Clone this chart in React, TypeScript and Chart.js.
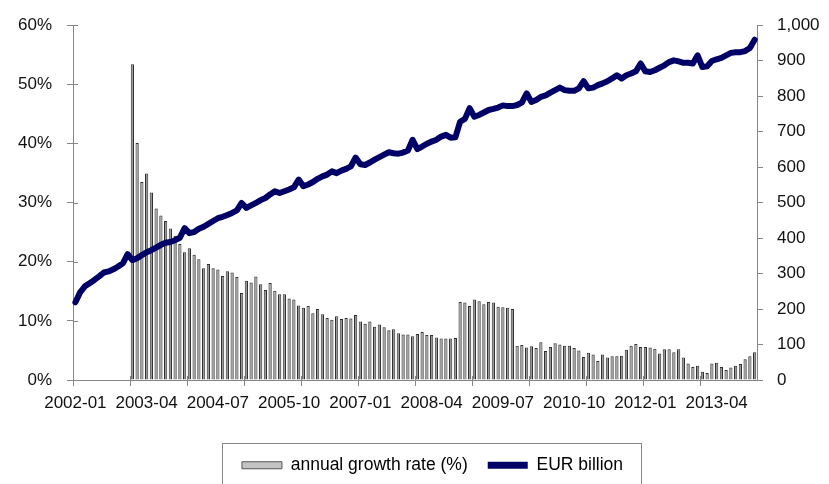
import React, { useEffect, useRef } from 'react';
import { Chart, registerables } from 'chart.js';

Chart.register(...registerables);

// Monthly categories 2002-01 .. 2013-12
const START_YEAR = 2002;
const MONTH_COUNT = 144;
const months: string[] = [];
for (let i = 0; i < MONTH_COUNT; i++) {
  const y = START_YEAR + Math.floor(i / 12);
  const m = (i % 12) + 1;
  months.push(`${y}-${m < 10 ? '0' + m : m}`);
}
const LABEL_EVERY = 15; // tick labels every 15 months
const TICK_EVERY = 12; // tick marks every 12 months

// Annual growth rate (%), 2003-01 .. 2013-12
const GROWTH_START = 12;
const growthRate = [
  53.4, 40.1, 33.5, 34.9, 31.7, 29.0, 27.8, 26.9, 25.6, 24.4, 23.0, 21.6,
  22.3, 21.2, 20.4, 18.9, 19.6, 18.9, 18.7, 17.6, 18.4, 18.2, 17.4, 14.7,
  16.8, 16.5, 17.5, 16.2, 15.2, 16.4, 15.1, 14.5, 14.5, 13.8, 13.6, 12.6,
  12.2, 12.5, 11.3, 12.0, 11.1, 10.5, 10.2, 10.8, 10.3, 10.5, 10.4, 11.0,
  9.9, 9.5, 9.9, 9.0, 9.4, 8.9, 8.4, 8.6, 7.9, 7.7, 7.7, 7.4,
  7.8, 8.1, 7.6, 7.6, 7.2, 7.0, 7.0, 7.0, 7.1, 13.2, 13.1, 12.5,
  13.6, 13.3, 12.8, 13.2, 13.1, 12.4, 12.3, 12.2, 12.0, 5.8, 5.9, 5.5,
  5.7, 5.4, 6.4, 4.9, 5.6, 6.2, 6.0, 5.8, 5.8, 5.4, 5.0, 3.9,
  4.6, 4.3, 3.2, 4.3, 3.8, 4.0, 4.0, 4.1, 5.1, 5.8, 6.1, 5.6,
  5.6, 5.5, 5.3, 4.5, 5.2, 5.2, 4.7, 5.2, 3.8, 2.8, 2.2, 2.4,
  1.4, 1.2, 2.8, 2.9, 2.2, 1.7, 2.1, 2.4, 2.7, 3.5, 4.0, 4.7,
];

// EUR billion, 2002-01 .. 2013-12
const eurBillion = [
  219, 247, 264, 273, 282, 292, 303, 306, 312, 320, 329, 355,
  338, 343, 352, 360, 366, 373, 381, 387, 389, 394, 401, 428,
  414, 417, 426, 432, 440, 448, 456, 460, 465, 471, 478, 499,
  485, 492, 499, 507, 513, 523, 532, 527, 532, 537, 543, 565,
  546, 551, 558, 567, 574, 579, 588, 583, 590, 595, 602, 627,
  608, 606, 613, 621, 628, 635, 642, 639, 638, 641, 647, 677,
  651, 658, 666, 672, 677, 686, 691, 683, 684, 728, 736, 766,
  742, 747, 754, 761, 764, 768, 774, 772, 772, 775, 782, 808,
  784, 789, 798, 802, 810, 817, 824, 817, 815, 815, 822, 842,
  822, 824, 831, 836, 842, 850, 859, 850, 859, 864, 870, 892,
  870, 868, 873, 880, 887, 896, 901, 898, 894, 894, 892, 915,
  882, 884, 899, 904, 908, 915, 922, 924, 924, 927, 936, 959,
];

const seriesNames = ['annual growth rate (%)', 'EUR billion'];
const leftAxis = { min: 0, max: 60, step: 10 };
const rightAxis = { min: 0, max: 1000, step: 100 };

const AXIS_GRAY = '#868686';
const NAVY = '#000066';
const BAR_FILL = '#979797';
const BAR_EDGE = '#303030';
const FONT = "'Liberation Sans', Arial, sans-serif";
const LEGEND_SHIFT = 36;

const legendShift = {
  id: 'legendShift',
  afterLayout(chart: any) {
    const lg = chart.legend;
    if (lg) lg.left += LEGEND_SHIFT;
  },
};

// inner halves of the crossing tick marks (left axis and x axis)
const innerTicks = {
  id: 'innerTicks',
  afterDatasetsDraw(chart: any) {
    const { ctx, chartArea, scales } = chart;
    ctx.save();
    ctx.strokeStyle = AXIS_GRAY;
    ctx.lineWidth = 1;
    ctx.beginPath();
    const y = scales.y;
    for (let v = leftAxis.min; v <= leftAxis.max; v += leftAxis.step) {
      const py = Math.round(y.getPixelForValue(v)) + 0.5;
      ctx.moveTo(chartArea.left, py);
      ctx.lineTo(chartArea.left + 5, py);
    }
    const x = scales.x;
    const step = (chartArea.right - chartArea.left) / MONTH_COUNT;
    for (let i = 0; i <= MONTH_COUNT; i += TICK_EVERY) {
      const px = Math.round(chartArea.left + i * step) + 0.5;
      ctx.moveTo(px, chartArea.bottom);
      ctx.lineTo(px, chartArea.bottom - 4);
    }
    void x;
    ctx.stroke();
    ctx.restore();
  },
};

const legendBorder = {
  id: 'legendBorder',
  afterDraw(chart: any) {
    const lg = chart.legend;
    if (!lg || !lg.legendHitBoxes || !lg.legendHitBoxes.length) return;
    const hb = lg.legendHitBoxes;
    const left = Math.min(...hb.map((h: any) => h.left)) - 20;
    const right = Math.max(...hb.map((h: any) => h.left + h.width)) + 18;
    const top = hb[0].top - 13.5;
    const ctx = chart.ctx;
    ctx.save();
    ctx.strokeStyle = AXIS_GRAY;
    ctx.lineWidth = 1;
    ctx.strokeRect(Math.round(left) + 0.5, Math.round(top) + 0.5, Math.round(right - left), chart.height - top + 10);
    ctx.restore();
  },
};

export default function App() {
  const canvasRef = useRef<HTMLCanvasElement | null>(null);

  useEffect(() => {
    const canvas = canvasRef.current;
    if (!canvas) return;
    const barData: (number | null)[] = months.map((_, i) =>
      i >= GROWTH_START ? growthRate[i - GROWTH_START] : null
    );

    const chart = new Chart(canvas, {
      type: 'bar',
      data: {
        labels: months,
        datasets: [
          {
            type: 'bar',
            label: seriesNames[0],
            data: barData,
            yAxisID: 'y',
            backgroundColor: BAR_FILL,
            borderColor: BAR_EDGE,
            borderWidth: 1,
            barPercentage: 0.68,
            categoryPercentage: 1,
            order: 1,
          } as any,
          {
            type: 'line',
            label: seriesNames[1],
            data: eurBillion,
            yAxisID: 'y1',
            borderColor: NAVY,
            backgroundColor: NAVY,
            borderWidth: 6,
            pointRadius: 0,
            tension: 0,
            borderJoinStyle: 'round',
            borderCapStyle: 'round',
            order: 0,
          } as any,
        ],
      },
      options: {
        responsive: false,
        animation: false,
        layout: { padding: { top: 23, left: 0, right: 0, bottom: 0 } },
        font: { family: FONT },
        plugins: {
          tooltip: { enabled: false },
          legend: {
            position: 'bottom',
            labels: {
              font: { family: FONT, size: 17.5 },
              color: '#000',
              boxWidth: 40,
              boxHeight: 7,
              padding: 20,
              sort: (a: any, b: any) => a.datasetIndex - b.datasetIndex,
              generateLabels: (ch: any) => {
                const items = Chart.defaults.plugins.legend.labels.generateLabels(ch);
                return items.map((it: any) => {
                  if (it.datasetIndex === 0) {
                    return { ...it, fillStyle: '#c4c4c4', strokeStyle: '#555', lineWidth: 1 };
                  }
                  return { ...it, fillStyle: NAVY, strokeStyle: NAVY, lineWidth: 0 };
                });
              },
            },
          },
        },
        scales: {
          x: {
            type: 'category',
            offset: true,
            afterFit: (s: any) => { s.height = 56.5; },
            grid: {
              display: true,
              offset: true,
              drawOnChartArea: false,
              tickLength: 6,
              color: (c: any) => (c.index % TICK_EVERY === 0 ? AXIS_GRAY : 'rgba(0,0,0,0)'),
              tickColor: (c: any) => (c.index % TICK_EVERY === 0 ? AXIS_GRAY : 'rgba(0,0,0,0)'),
            },
            border: { display: true, color: AXIS_GRAY, width: 1 },
            ticks: {
              autoSkip: false,
              maxRotation: 0,
              minRotation: 0,
              padding: 7,
              color: '#111',
              font: { family: FONT, size: 17 },
              callback: (_v: any, idx: number) => (idx % LABEL_EVERY === 0 ? months[idx] : ''),
            },
          },
          y: {
            position: 'left',
            min: leftAxis.min,
            max: leftAxis.max,
            afterFit: (s: any) => { s.width = 73; },
            grid: { drawOnChartArea: false, tickLength: 6, color: AXIS_GRAY },
            border: { display: true, color: AXIS_GRAY, width: 1 },
            ticks: {
              stepSize: leftAxis.step,
              padding: 15,
              color: '#111',
              font: { family: FONT, size: 17 },
              callback: (v: any) => `${v}%`,
            },
          },
          y1: {
            position: 'right',
            min: rightAxis.min,
            max: rightAxis.max,
            afterFit: (s: any) => { s.width = 72; },
            grid: { drawOnChartArea: false, tickLength: 6, color: AXIS_GRAY },
            border: { display: true, color: AXIS_GRAY, width: 1 },
            ticks: {
              stepSize: rightAxis.step,
              padding: 14,
              color: '#111',
              font: { family: FONT, size: 17 },
              callback: (v: any) => Number(v).toLocaleString('en-US'),
            },
          },
        },
      },
      plugins: [legendShift, innerTicks, legendBorder],
    });

    return () => chart.destroy();
  }, []);

  return (
    <div style={{ position: 'fixed', left: 0, top: 0, width: 829, height: 484, background: '#fff' }}>
      <canvas ref={canvasRef} width={829} height={484} style={{ display: 'block', width: 829, height: 484 }} />
    </div>
  );
}
